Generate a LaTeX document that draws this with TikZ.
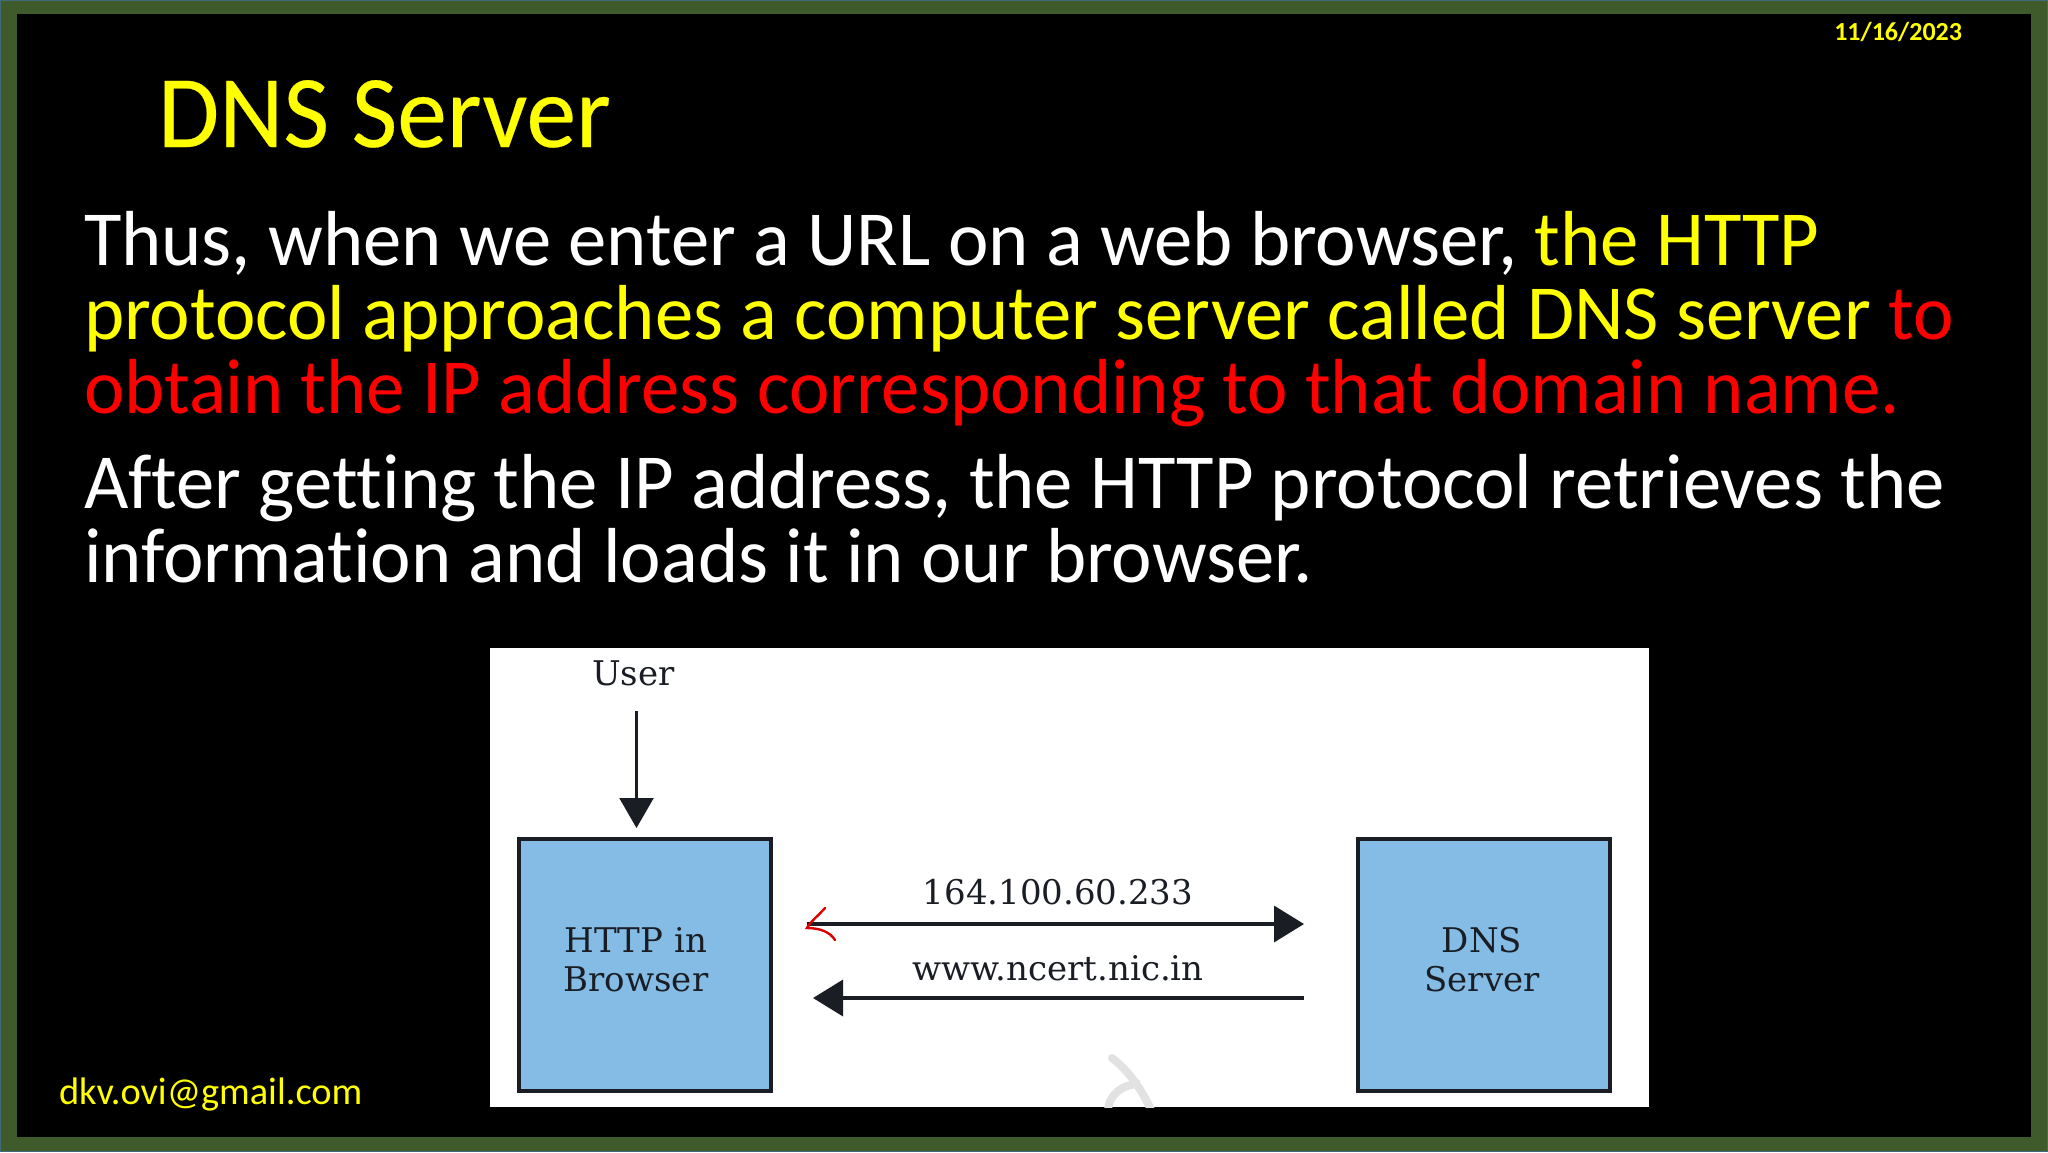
\documentclass[tikz,border=0pt]{standalone}
\usepackage{fontspec}
\setmainfont[RawFeature={-liga}]{Carlito}
\newfontfamily\figfont{DejaVu Serif}
\newfontfamily\bodyfont[FakeStretch=0.983,RawFeature={-liga}]{Carlito}
\newfontfamily\titlefont[FakeStretch=0.966,FakeBold=0.25]{Carlito}
\usetikzlibrary{arrows.meta}
\definecolor{frame}{HTML}{3F5A2B}
\definecolor{edge}{HTML}{3F6C78}
\definecolor{boxblue}{HTML}{85BCE6}
\definecolor{ink}{HTML}{1A1E24}
\definecolor{ylw}{HTML}{FFFF00}
\definecolor{rd}{HTML}{FF0000}
\definecolor{wm}{HTML}{E2E2E2}
\tikzset{
 every node/.style={inner sep=0pt,outer sep=0pt},
 body/.style={anchor=base west,text=white,font=\bodyfont\fontsize{78}{78}\selectfont},
 fig/.style={anchor=center,text=ink,align=center,font=\figfont\fontsize{34}{39}\selectfont},
 bx/.style={draw=ink,line width=4pt,fill=boxblue},
 arr/.style={draw=ink,line width=3.6pt,-{Triangle[length=30pt,width=36pt]}},
}
\begin{document}
\begin{tikzpicture}[x=1pt,y=-1pt]
\useasboundingbox (0,0) rectangle (2048,1152);
\fill[edge] (0,0) rectangle (2048,1152);
\fill[frame] (1,1) rectangle (2047,1151);
\fill[black] (17,14) rectangle (2031,1137);
\node[anchor=base east,text=ylw,font=\bfseries\fontsize{26}{26}\selectfont] (date) at (1962,40) {11/16/2023};
\node[anchor=base west,text=ylw,font=\titlefont\fontsize{103}{103}\selectfont] (title) at (158,147) {DNS Server};
\node[body] (l1) at (84,265) {Thus, when we enter a URL on a web browser, \textcolor{ylw}{the HTTP}};
\node[body,text=ylw] (l2) at (84,339) {protocol approaches a computer server called DNS server \textcolor{rd}{to}};
\node[body,text=rd] (l3) at (84,413) {obtain the IP address corresponding to that domain name.};
\node[body] (l4) at (84,508) {After getting the IP address, the HTTP protocol retrieves the};
\node[body] (l5) at (84,582) {information and loads it in our browser.};
\node[anchor=base west,text=ylw,font=\fontsize{38.4}{38.4}\selectfont] (mail) at (59,1104) {dkv.ovi@gmail.com};
% figure
\fill[white] (490,648) rectangle (1649,1107);
\begin{scope}
\clip (490,648) rectangle (1649,1107);
\draw[wm,line width=8pt,line cap=round] (1112,1058) .. controls (1130,1072) and (1142,1090) .. (1152,1112);
\draw[wm,line width=8pt] (1108,1112) .. controls (1108,1095) and (1122,1084) .. (1140,1084);
\end{scope}
\node[bx,minimum width=252pt,minimum height=252pt] (http) at (645,964.5) {};
\node[bx,minimum width=252pt,minimum height=252pt] (dns) at (1484,964.5) {};
\node[fig] (httpl) at (636,960) {HTTP in\\Browser};
\node[fig] (dnsl) at (1482,960) {DNS\\Server};
\node[fig] (user) at (633.5,673) {User};
\node[fig] (ip) at (1058,892) {164.100.60.233};
\node[fig] (url) at (1058,968) {www.ncert.nic.in};
\coordinate (us) at (636.5,711);
\coordinate (ue) at (636.5,828);
\coordinate (a1s) at (807,924);
\coordinate (a1e) at (1304,924);
\coordinate (a2s) at (1304,998);
\coordinate (a2e) at (813,998);
\coordinate (r1) at (825,908);
\coordinate (r2) at (807,928);
\coordinate (r3) at (835,940);
\draw[draw=ink,line width=2.2pt,-{Triangle[length=30pt,width=34pt]}] (us) -- (ue);
\draw[arr] (a1s) -- (a1e);
\draw[arr] (a2s) -- (a2e);
\draw[rd!85!black,line width=2.4pt,line cap=round] (r1) .. controls (818,916) and (810,922) .. (r2) .. controls (820,928) and (830,932) .. (r3);
\end{tikzpicture}
\end{document}
